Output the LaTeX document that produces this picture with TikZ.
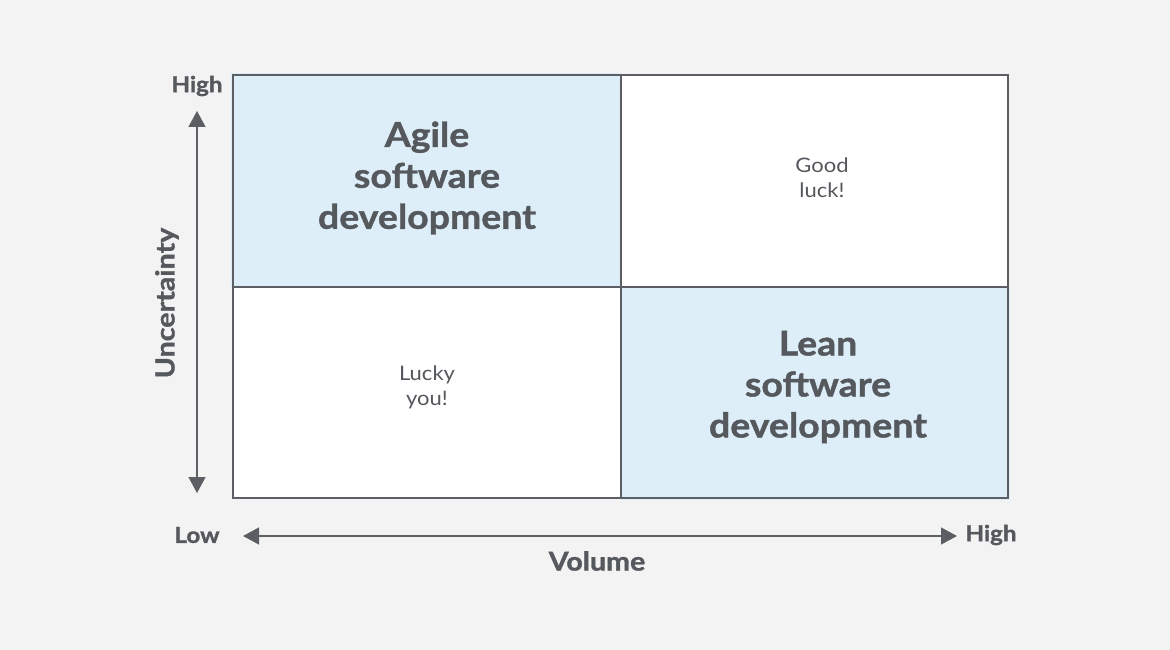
\documentclass[tikz,border=0pt]{standalone}
\usepackage{fontspec}
\setmainfont{Lato}[FakeStretch=1.1, BoldFeatures={FakeBold=1.3}]
\usetikzlibrary{arrows.meta}
\definecolor{bgc}{HTML}{F3F3F3}
\definecolor{linec}{HTML}{5B5E63}
\definecolor{txtc}{HTML}{55585D}
\definecolor{bluec}{HTML}{DDEEF9}
\tikzset{
  bigtxt/.style={text=txtc, font=\fontsize{34}{41}\selectfont\bfseries, align=center},
  smalltxt/.style={text=txtc, font=\fontsize{20}{25}\selectfont, align=center},
  axlabel/.style={text=txtc, font=\fontsize{22}{24}\selectfont\bfseries},
  axtitle/.style={text=txtc, font=\fontsize{26}{28}\selectfont\bfseries},
  axarrow/.style={draw=linec, line width=1.3pt, {Triangle[length=16pt,width=17pt]}-{Triangle[length=16pt,width=17pt]}}
}
\begin{document}
\begin{tikzpicture}[x=1pt,y=-1pt]
\fill[bgc] (0,0) rectangle (1170,650);
\useasboundingbox (0,0) rectangle (1170,650);
% cells
\fill[bluec] (231,73) rectangle (621,287);
\fill[white] (621,75) rectangle (1008,287);
\fill[white] (233,287) rectangle (621,498);
\fill[bluec] (621,287) rectangle (1010,500);
\draw[linec, line width=1.4pt] (233,75) rectangle (1008,498);
\draw[linec, line width=1.4pt] (621,75) -- (621,498);
\draw[linec, line width=1.4pt] (233,287) -- (1008,287);
% texts
\node[bigtxt] (agile) at (427,178) {Agile\\software\\development};
\node[bigtxt] (lean) at (818,387) {Lean\\software\\development};
\node[smalltxt] (good) at (822,178) {Good\\luck!};
\node[smalltxt] (lucky) at (427,387) {Lucky\\you!};
% axes
\node[axlabel] (yhigh) at (197,86) {High};
\coordinate (ytop) at (197,111);
\coordinate (ybot) at (197,493);
\draw[axarrow] (ybot) -- (ytop);
\node[axtitle, rotate=90] (unc) at (167,303) {Uncertainty};
\node[axlabel] (xlow) at (197,535) {Low};
\node[axlabel] (xhigh) at (991,535) {High};
\coordinate (xleft) at (243,536);
\coordinate (xright) at (957,536);
\draw[axarrow] (xleft) -- (xright);
\node[axtitle] (vol) at (597,561) {Volume};
\end{tikzpicture}
\end{document}
